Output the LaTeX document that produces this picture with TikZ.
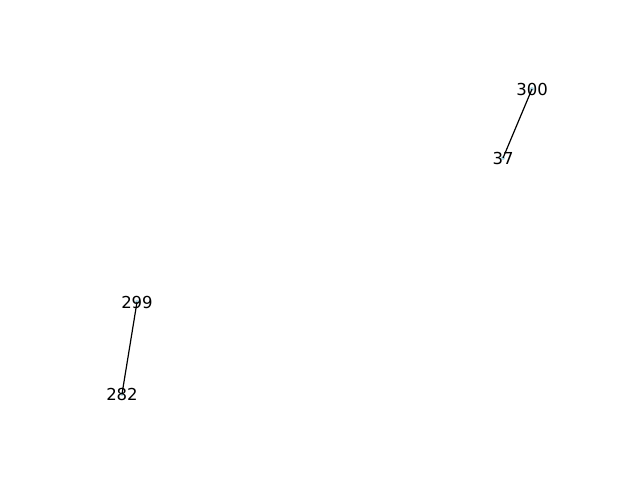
\documentclass[tikz,border=0pt]{standalone}
\usepackage{fontspec}
\setmainfont{DejaVu Sans}
\usetikzlibrary{positioning}
\definecolor{dotblue}{HTML}{ADD8E6}
\tikzset{>=latex}
\tikzset{vdot/.style={circle, fill=dotblue, inner sep=0pt, minimum size=4bp}}
\tikzset{vlabel/.style={inner sep=0pt, font=\fontsize{16.5bp}{18bp}\selectfont}}
\tikzset{vedge/.style={line width=1.2bp, black}}

\begin{document}
\begin{tikzpicture}[x=1bp, y=-1bp]
          \useasboundingbox (0,0) rectangle (640,480);
          % nodes
          \node[vdot] (v300) at (532,89) {};
          \node[vdot] (v37) at (503,158) {};
          \node[vdot] (v299) at (137,302) {};
          \node[vdot] (v282) at (122,394) {};
          % edges
          \draw[vedge] (v300.center) -- (v37.center);
          \draw[vedge] (v299.center) -- (v282.center);
          % labels
          \node[vlabel] at (v300) {300};
          \node[vlabel] at (v37) {37};
          \node[vlabel] at (v299) {299};
          \node[vlabel] at (v282) {282};
        \end{tikzpicture}
\end{document}
